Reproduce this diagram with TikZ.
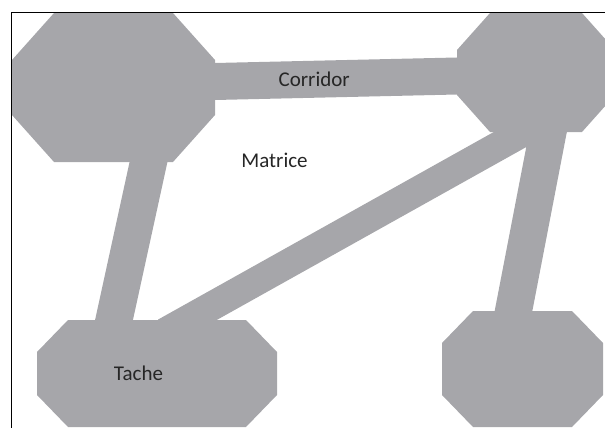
\documentclass[tikz,border=0pt]{standalone}
\usepackage{fontspec}
\setmainfont{Carlito}
\usetikzlibrary{positioning}
\definecolor{patchgray}{RGB}{166,166,170}

\begin{document}
\begin{tikzpicture}[x=1pt, y=-1pt,
    patch/.style n args={4}{minimum width=#1, minimum height=#2, inner sep=0pt, outer sep=0pt,
        path picture={\fill[patchgray]
            ([xshift=#3]path picture bounding box.north west) -- ([xshift=-#3]path picture bounding box.north east)
            -- ([yshift=-#4]path picture bounding box.north east) -- ([yshift=#4]path picture bounding box.south east)
            -- ([xshift=-#3]path picture bounding box.south east) -- ([xshift=#3]path picture bounding box.south west)
            -- ([yshift=#4]path picture bounding box.south west) -- ([yshift=-#4]path picture bounding box.north west)
            -- cycle;}},
    band/.style={draw=patchgray, line width=37pt},
    lbl/.style={font=\fontsize{21}{24}\selectfont, text=black!85, inner sep=0pt}
]
    \useasboundingbox (0,0) rectangle (605,428);

    % Patches
    \node[patch={203pt}{149pt}{42pt}{47pt}] (patchnw) at (113.5,87.5) {};
    \node[patch={158pt}{119pt}{33pt}{37pt}] (patchne) at (536,72.5) {};
    \node[patch={240pt}{107pt}{31pt}{32pt}] (patchsw) at (157,373.5) {};
    \node[patch={161pt}{116pt}{31pt}{32pt}] (patchse) at (522.5,369) {};

    % Corridors between patches
    \draw[band, shorten <=-4pt, shorten >=-4pt] ([yshift=6pt]patchnw.east) -- node[lbl, pos=0.41] {Corridor} ([yshift=-3.5pt]patchne.west);
    \draw[band, shorten <=-6pt, shorten >=-6pt] ([xshift=35pt]patchnw.south) -- ([xshift=-43pt]patchsw.north);
    \draw[band, shorten <=-6pt, shorten >=-6pt] ([xshift=-9pt]patchse.north) -- ([xshift=12pt]patchne.south);
    \draw[band, line width=29pt, shorten <=-25pt] ([xshift=30pt]patchsw.north) -- ([yshift=7pt]patchne.south);

    % Labels
    \node[lbl] (matrice) at (274.5,160) {Matrice};
    \node[lbl] (tache) at ([xshift=-18.5pt]patchsw.center) {Tache};

    % Frame
    \draw[line width=1.5pt] (11.5,12.5) rectangle (620,440);
\end{tikzpicture}
\end{document}
